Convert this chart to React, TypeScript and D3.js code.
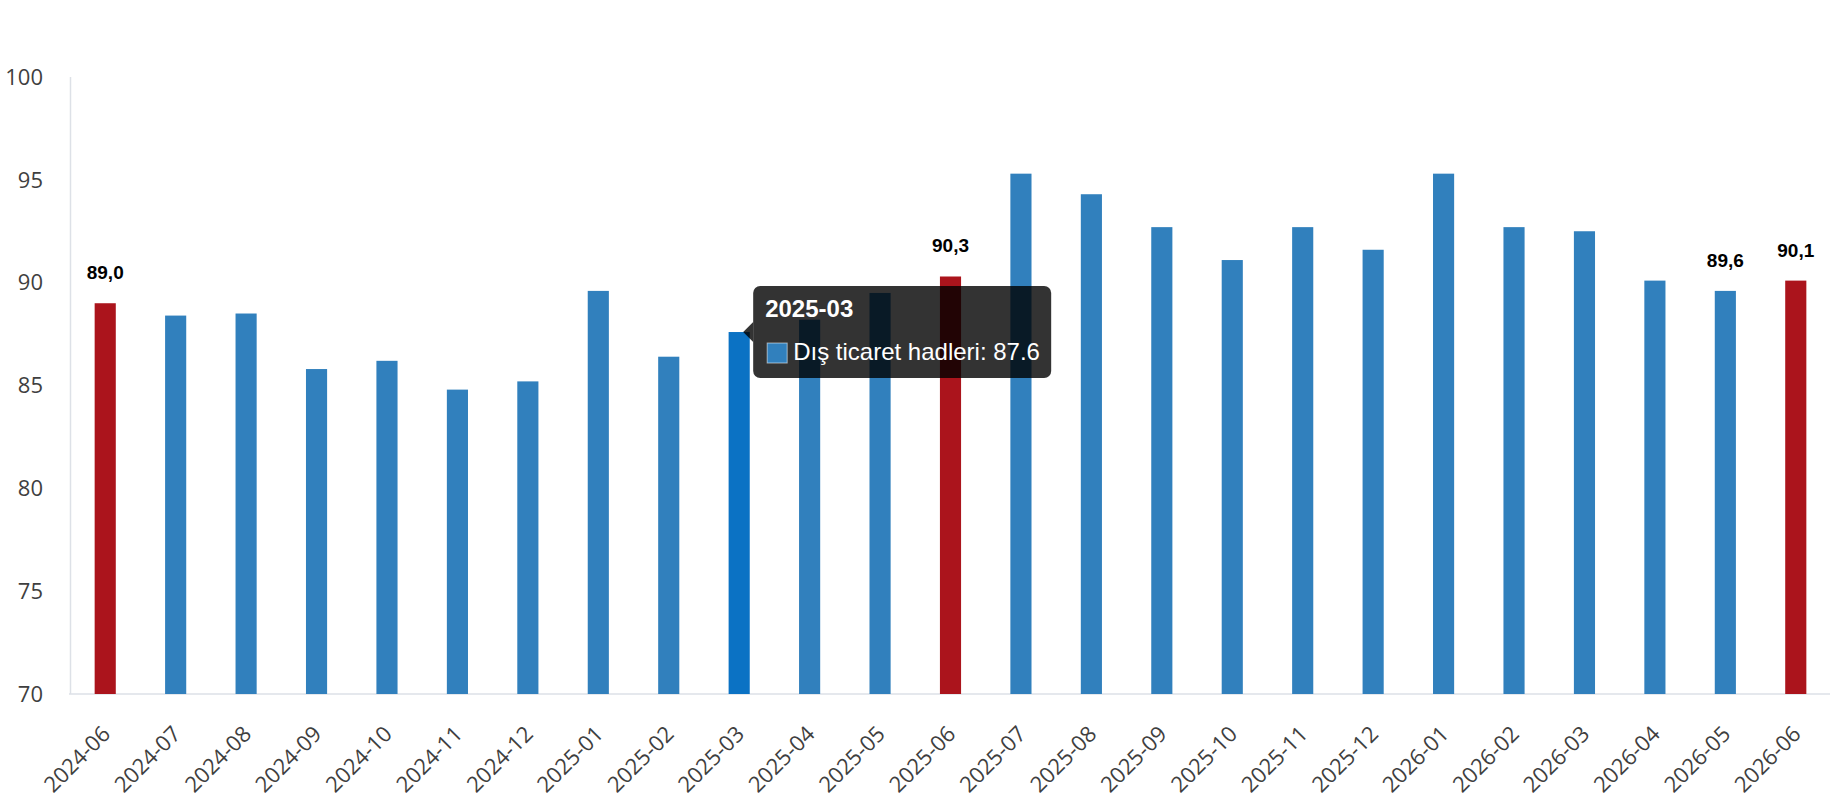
import React from 'react';
import * as d3 from 'd3';

// Dış ticaret hadleri, monthly index
const months: string[] = [
  '2024-06', '2024-07', '2024-08', '2024-09', '2024-10', '2024-11', '2024-12',
  '2025-01', '2025-02', '2025-03', '2025-04', '2025-05', '2025-06', '2025-07',
  '2025-08', '2025-09', '2025-10', '2025-11', '2025-12', '2026-01', '2026-02',
  '2026-03', '2026-04', '2026-05', '2026-06',
];
const values: number[] = [
  89.0, 88.4, 88.5, 85.8, 86.2, 84.8, 85.2, 89.6, 86.4, 87.6, 88.2, 89.5, 90.3,
  95.3, 94.3, 92.7, 91.1, 92.7, 91.6, 95.3, 92.7, 92.5, 90.1, 89.6, 90.1,
];
const highlighted: string[] = ['2024-06', '2025-06', '2026-06'];
const labelled: string[] = ['2024-06', '2025-06', '2026-05', '2026-06'];
const yTicks: number[] = [70, 75, 80, 85, 90, 95, 100];
const seriesName = 'Dış ticaret hadleri';
const hovered = '2025-03';

const W = 1830;
const H = 800;
const margin = { left: 70, right: -1, top: 77, bottom: 106 };

const BLUE = '#3180bd';
const RED = '#ab141c';
const HOVER = '#0b72c4';
const AXIS = '#dde1e7';
const TICK = '#3f3f3f';
const TICK_FONT = "'Segoe UI', 'Open Sans', sans-serif";
const LABEL_FONT = "'Liberation Sans', Arial, sans-serif";

const App: React.FC = () => {
  const x = d3.scaleBand<string>().domain(months).range([margin.left, W - margin.right]).padding(0);
  const y = d3.scaleLinear().domain([70, 100]).range([H - margin.bottom, margin.top]);
  const barW = x.bandwidth() * 0.3;
  const cx = (m: string) => (x(m) ?? 0) + x.bandwidth() / 2;

  // tooltip geometry, anchored on the hovered bar
  const hi = months.indexOf(hovered);
  const tipX = cx(hovered) + 4;
  const tipY = y(values[hi]);
  const boxX = tipX + 10;
  const boxW = 298;
  const boxH = 92;
  const boxY = tipY - boxH / 2;

  return (
    <svg width={W} height={H} style={{ position: 'absolute', left: 0, top: 0, display: 'block' }}>
      <rect width={W} height={H} fill="#fff" />

      {/* axes */}
      <line x1={margin.left + 0.5} x2={margin.left + 0.5} y1={y(100)} y2={y(70)} stroke={AXIS} strokeWidth={1.5} />
      <line x1={margin.left - 1} x2={W} y1={y(70)} y2={y(70)} stroke={AXIS} strokeWidth={1.5} />

      {yTicks.map((t) => (
        <text key={t} x={43} y={y(t)} dy="0.35em" textAnchor="end" fontSize={22} fontFamily={TICK_FONT} fill={TICK}>
          {t}
        </text>
      ))}

      {months.map((m) => (
        <text key={m} transform={`translate(${cx(m) + 1},${y(70) + 36}) rotate(-45)`} textAnchor="end"
          dy="0.35em" fontSize={22} fontFamily={TICK_FONT} fill={TICK}>
          {m}
        </text>
      ))}

      {/* bars */}
      {months.map((m, i) => (
        <rect key={m} x={cx(m) - barW / 2} y={y(values[i])} width={barW} height={y(70) - y(values[i])}
          fill={highlighted.includes(m) ? RED : m === hovered ? HOVER : BLUE} />
      ))}

      {/* value labels */}
      {months.map((m, i) =>
        labelled.includes(m) ? (
          <text key={m} x={cx(m)} y={y(values[i]) - 24} textAnchor="middle" fontSize={19} fontWeight="bold"
            fontFamily={LABEL_FONT} fill="#000">
            {values[i].toFixed(1).replace('.', ',')}
          </text>
        ) : null
      )}

      {/* tooltip */}
      <g>
        <path d={`M${tipX},${tipY} L${boxX},${tipY - 10} L${boxX},${tipY + 10} Z`} fill="rgba(0,0,0,0.8)" />
        <rect x={boxX} y={boxY} width={boxW} height={boxH} rx={7} fill="rgba(0,0,0,0.8)" />
        <text x={boxX + 12} y={boxY + 31} fontSize={24} fontWeight="bold" fill="#fff" fontFamily={LABEL_FONT}>
          {hovered}
        </text>
        <rect x={boxX + 14} y={boxY + 57} width={20} height={20} fill={BLUE} stroke="rgba(255,255,255,0.55)" strokeWidth={1} />
        <text x={boxX + 40} y={boxY + 74} fontSize={24} fill="#fff" fontFamily={LABEL_FONT}>
          {`${seriesName}: ${values[hi]}`}
        </text>
      </g>
    </svg>
  );
};

export default App;
